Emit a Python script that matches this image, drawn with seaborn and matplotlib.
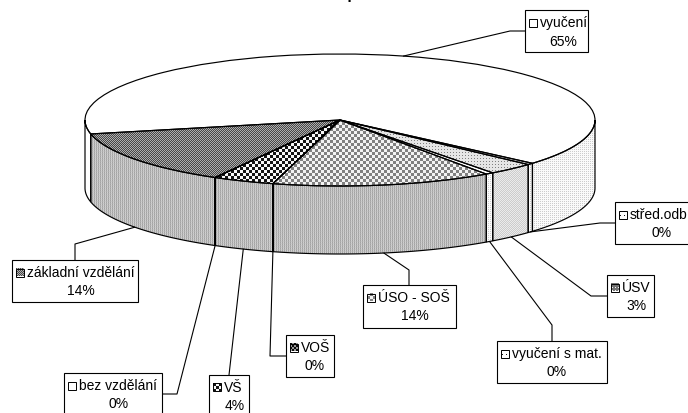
import numpy as np
import matplotlib
matplotlib.use('Agg')
import matplotlib.pyplot as plt
import seaborn as sns

# hodnoty
kategorie = ['vyučení', 'základní vzdělání', 'bez vzdělání', 'VŠ', 'VOŠ',
             'ÚSO - SOŠ', 'vyučení s mat.', 'ÚSV', 'střed.odb']
hodnoty = [65.0, 13.5, 0.02, 3.9, 0.02, 14.0, 0.5, 3.0, 0.4]
nazev = 'Současné vzdělání pracovníků'

# vzhled: výplň vrchu a pláště každé výseče
vzor_vrch = ['bila', 'tmava', 'bila', 'sach', 'bila', 'kosocty', 'bila', 'tecky', 'tecky']
vzor_plast = ['svetla', 'pruhy', 'bila', 'pruhy', 'pruhy', 'pruhy', 'svetla', 'stredni', 'svetla']
vzor_klic = ['bila', 'tmava', 'bila', 'sach', 'sach2', 'kosocty', 'tecky2', 'tecky3', 'tecky2']

# rámečky popisků v pixelech: levá, horní, pravá, dolní, lomení vodicí čáry
ramecky = [(525, 11, 588, 53, (510, 32)),
           (12, 261, 138, 303, (75, 245)),
           (64, 374, 162, 430, (177, 395)),
           (209, 376, 249, 430, (229, 376)),
           (286, 336, 334, 378, (270, 357)),
           (363, 286, 456, 329, (409, 271)),
           (497, 342, 607, 384, (552, 326)),
           (607, 276, 654, 318, (591, 297)),
           (615, 203, 700, 245, (600, 224))]
# kam vodicí čára dojde z lomení na rámeček
konce = [(525, 32), (75, 261), (162, 395), (229, 376), (286, 357),
         (409, 286), (552, 342), (607, 297), (615, 224)]
# střed řádku s procenty
stredy_pct = [563, 81, 119, 235, 315, 415, 557, 636, 662]

W, H = 688, 414
cx, cy, a, b = 340, 121, 255, 66
hloubka = 68 / b


def vzor(jmeno, sirka=W, vyska=H):
    yy, xx = np.mgrid[0:vyska, 0:sirka]
    if jmeno == 'bila':
        return np.ones_like(xx, dtype=float)
    if jmeno == 'tmava':
        return np.where((xx + yy) % 2 == 0, 0.28, 0.68)
    if jmeno == 'sach':
        return np.where((xx // 3 + yy // 3) % 2 == 0, 0.08, 0.97)
    if jmeno == 'sach2':
        return np.where((xx // 2 + yy // 2) % 2 == 0, 0.05, 0.6)
    if jmeno == 'kosocty':
        return np.where((xx // 3 + yy // 3) % 2 == 0, 0.95, 0.5)
    if jmeno == 'pruhy':
        return np.where(xx % 2 == 0, 0.66, 0.8) + np.where((xx + yy) % 2 == 0, 0.02, -0.02)
    if jmeno == 'stredni':
        return np.where((xx + yy) % 2 == 0, 0.8, 0.92)
    if jmeno == 'svetla':
        return np.where((xx % 2 == 0) & (yy % 2 == 0), 0.8, 0.98)
    if jmeno == 'tecky':
        return np.where((xx % 3 == 0) & (yy % 3 == 0), 0.5, 0.9)
    if jmeno == 'tecky2':
        return np.where((xx % 4 == 1) & (yy % 4 == 1), 0.1, 1.0)
    if jmeno == 'tecky3':
        return np.where((xx % 3 == 1) & (yy % 3 == 1), 0.95, 0.45)
    raise ValueError(jmeno)


sns.set_theme(style='white')
plt.rcParams['font.family'] = ['Liberation Sans', 'DejaVu Sans']

fig = plt.figure(figsize=(W / 100, H / 100), dpi=100)
ax = fig.add_axes([0, 0, 1, 1])
lim_x = (-cx / a, (W - cx) / a)
lim_y = ((cy - H) / b, cy / b)

# vrch koláče
zacatek = -41
vysece, _ = ax.pie(hodnoty, startangle=zacatek, counterclock=True, radius=1,
                   wedgeprops={'facecolor': 'none', 'edgecolor': 'black', 'linewidth': 0.85, 'zorder': 4})
ax.set_aspect('auto')

uhly = zacatek + np.cumsum([0] + hodnoty) / np.sum(hodnoty) * 360
obrazek = dict(extent=(lim_x[0], lim_x[1], lim_y[0], lim_y[1]), aspect='auto', cmap='gray',
               vmin=0, vmax=1, interpolation='nearest', origin='upper', zorder=2)

for vysec, jmeno in zip(vysece, vzor_vrch):
    im = ax.imshow(vzor(jmeno), **obrazek)
    im.set_clip_path(vysec)


# plášť: jen přední část výsečí
def plast(t0, t1, jmeno):
    t = np.radians(np.linspace(t0, t1, 80))
    xs = np.r_[np.cos(t), np.cos(t[::-1])]
    ys = np.r_[np.sin(t), np.sin(t[::-1]) - hloubka]
    poly = ax.fill(xs, ys, facecolor='none', edgecolor='black', linewidth=0.85, zorder=4)[0]
    im = ax.imshow(vzor(jmeno), **obrazek)
    im.set_clip_path(poly)


for i, jmeno in enumerate(vzor_plast):
    t0, t1 = uhly[i], uhly[i + 1]
    if i == 0:
        plast(t0, 0, jmeno)
        plast(180, t1, 'bila')
    else:
        plast(t0, t1, jmeno)

ax.set_xlim(lim_x)
ax.set_ylim(lim_y)
ax.set_axis_off()

# popisky v pixelech
ax2 = fig.add_axes([0, 0, 1, 1], zorder=5)
ax2.patch.set_alpha(0)
for i, jmeno in enumerate(kategorie):
    x0, y0, x1, y1, lom = ramecky[i]
    stred = np.radians((uhly[i] + uhly[i + 1]) / 2)
    kotva_x = cx + a * np.cos(stred)
    kotva_y = cy - b * np.sin(stred) + (68 if np.sin(stred) < 0 else 0)
    sns.lineplot(x=[kotva_x, lom[0], konce[i][0]], y=[kotva_y, lom[1], konce[i][1]], color='black',
                 linewidth=0.8, sort=False, estimator=None, legend=False, ax=ax2, zorder=3)
    ax2.add_patch(plt.Rectangle((x0, y0), x1 - x0, y1 - y0, facecolor='white', edgecolor='black',
                                linewidth=0.8, zorder=4))
    ax2.imshow(vzor(vzor_klic[i], 8, 8), extent=(x0 + 3.5, x0 + 11.5, y0 + 16.5, y0 + 8.5), aspect='auto',
               cmap='gray', vmin=0, vmax=1, interpolation='nearest', zorder=5)
    ax2.add_patch(plt.Rectangle((x0 + 3.5, y0 + 8.5), 8, 8, facecolor='none', edgecolor='black',
                                linewidth=0.7, zorder=6))
    ax2.text(x0 + 15, y0 + 12.5, jmeno, fontsize=10, color='black', va='center', ha='left', zorder=6)
    ax2.text(stredy_pct[i], y0 + 30.5, f'{hodnoty[i]:.0f}%', fontsize=10,
             color='black', va='center', ha='center', zorder=6)

ax2.text(318, -0.5, nazev, fontsize=11, fontweight='bold', ha='center', va='baseline', color='black')
ax2.set_xlim(0, W)
ax2.set_ylim(H, 0)
ax2.set_axis_off()

fig.savefig('out.png', dpi=100)
print('Graf uložen.')
